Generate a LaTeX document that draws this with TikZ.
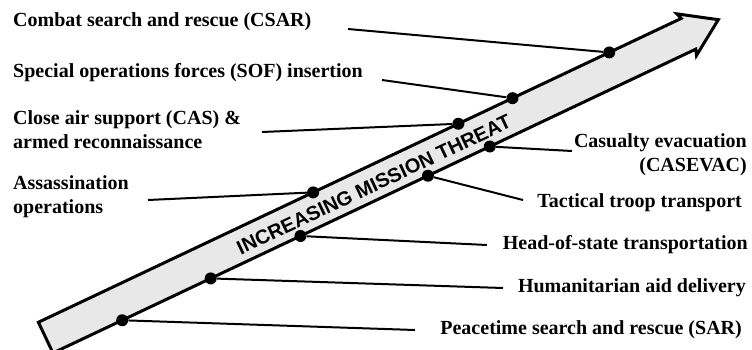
\documentclass[tikz,border=0pt]{standalone}
\usepackage{fontspec}
\setmainfont{Liberation Serif}
\newfontfamily\arialfont{Liberation Sans}
\definecolor{arrowfill}{HTML}{E8E8E8}
\begin{document}
\begin{tikzpicture}[x=1pt,y=1pt,
  lbl/.style={font=\bfseries\fontsize{20}{24}\selectfont, inner sep=0pt},
  dotnode/.style={circle, fill=black, inner sep=0pt, minimum size=12pt},
  conn/.style={line width=2pt},
  bigarrow/.style={line width=3pt, fill=arrowfill, line join=miter},
  ]
\useasboundingbox (0,0) rectangle (752,349);
\begin{scope}
\clip (0,0) rectangle (752,349);
\begin{scope}[shift={(138.8,55.4)}, rotate=25.3]
\draw[bigarrow] (-103,17) -- (608,17) -- (606,23) -- (641,0) -- (606,-23) -- (608,-17) -- (-103,-17) -- cycle;
\node[font=\arialfont\bfseries\fontsize{20}{20}\selectfont, rotate=25.3, inner sep=0pt] (title) at (259,-2) {INCREASING MISSION THREAT};
\node[dotnode] (d1) at (-26.4,-17) {};
\node[dotnode] (d2) at (71.5,-17) {};
\node[dotnode] (d3) at (170.8,-17) {};
\node[dotnode] (d4) at (311.8,-17) {};
\node[dotnode] (d5) at (380.2,-17) {};
\node[dotnode] (d6) at (200.9,17) {};
\node[dotnode] (d7) at (361.5,17) {};
\node[dotnode] (d8) at (421.4,17) {};
\node[dotnode] (d9) at (528.4,17) {};
\end{scope}
\end{scope}
% labels
\node[lbl, anchor=west] (l9) at (13,327) {Combat search and rescue (CSAR)};
\node[lbl, anchor=west] (l8) at (13,276) {Special operations forces (SOF) insertion};
\node[lbl, anchor=west, align=left] (l7) at (13,219) {Close air support (CAS) \&\\armed reconnaissance};
\node[lbl, anchor=west, align=left] (l6) at (13,152) {Assassination\\operations};
\node[lbl, anchor=east, align=right] (l5) at (747,194) {Casualty evacuation\\(CASEVAC)};
\node[lbl, anchor=east] (l4) at (742,146) {Tactical troop transport};
\node[lbl, anchor=east] (l3) at (748,104) {Head-of-state transportation};
\node[lbl, anchor=east] (l2) at (746,61) {Humanitarian aid delivery};
\node[lbl, anchor=east] (l1) at (742,19) {Peacetime search and rescue (SAR)};
% connector ends
\coordinate (c9) at (348,320);
\coordinate (c8) at (382,269);
\coordinate (c7) at (262,217);
\coordinate (c6) at (148,149);
\coordinate (c5) at (572,198);
\coordinate (c4) at (523,149);
\coordinate (c3) at (487,104);
\coordinate (c2) at (503,61);
\coordinate (c1) at (415,19);
\foreach \i in {1,...,9} {\draw[conn] (c\i) -- (d\i);}
\end{tikzpicture}
\end{document}
